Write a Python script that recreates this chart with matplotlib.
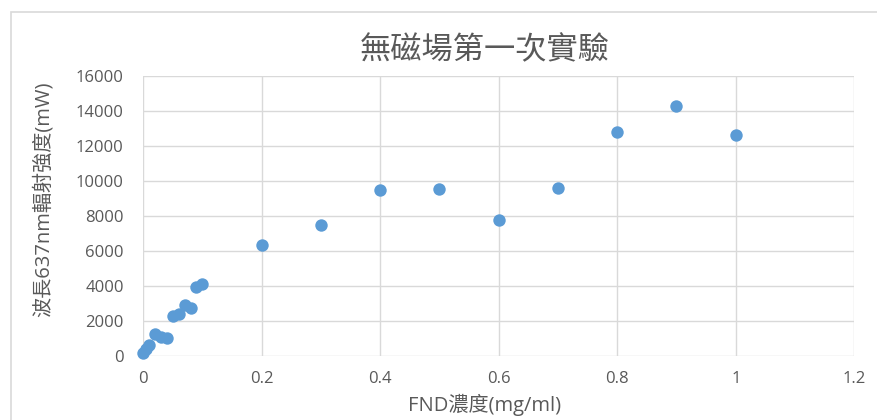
import matplotlib

matplotlib.use("Agg")

import matplotlib.pyplot as plt
from matplotlib.patches import Rectangle

plt.rcParams["font.family"] = ["Open Sans", "Noto Sans CJK TC", "DejaVu Sans"]

# FND concentration (mg/ml) vs 637 nm emission intensity (mW), no magnetic field
conc = [0, 0.005, 0.01, 0.02, 0.03, 0.04, 0.05, 0.06, 0.07, 0.08, 0.09, 0.1,
        0.2, 0.3, 0.4, 0.5, 0.6, 0.7, 0.8, 0.9, 1.0]
power = [200, 400, 650, 1250, 1100, 1050, 2300, 2400, 2950, 2750, 3950, 4100,
         6350, 7500, 9500, 9550, 7750, 9600, 12800, 14300, 12650]

x_ticks = [0, 0.2, 0.4, 0.6, 0.8, 1, 1.2]
x_labels = ["0", "0.2", "0.4", "0.6", "0.8", "1", "1.2"]
y_ticks = [0, 2000, 4000, 6000, 8000, 10000, 12000, 14000, 16000]

TEXT = "#595959"
GRID = "#D9D9D9"
BLUE = "#5B9BD5"

fig = plt.figure(figsize=(8.78, 4.2), dpi=100)
ax = fig.add_axes((0.163, 0.152, 0.810, 0.667))

# light chart-area frame, running off the right and bottom edges
fig.patches.append(Rectangle((11 / 878, -0.1), 1.2, 1.1 - 12 / 420,
                             transform=fig.transFigure, fill=False,
                             edgecolor="#D9D9D9", lw=1.2))

ax.scatter(conc, power, s=80, color=BLUE, linewidths=0, zorder=3, clip_on=False)

ax.set_xlim(0, 1.2)
ax.set_ylim(0, 16000)
ax.set_xticks(x_ticks)
ax.set_xticklabels(x_labels)
ax.set_yticks(y_ticks)
ax.grid(True, color=GRID, lw=1)
ax.set_axisbelow(True)
for s in ax.spines.values():
    s.set_visible(False)
ax.tick_params(length=0, colors=TEXT, labelsize=12)
ax.tick_params(axis="y", pad=14)
ax.tick_params(axis="x", pad=11)

# Excel places the axis titles off-centre; put them where the reference has them
fig.text(485 / 878, 1 - 405 / 420, "FND濃度(mg/ml)", ha="center", va="center",
         color=TEXT, fontsize=14.5)
fig.text(43 / 878, 1 - 199 / 420, "波長637nm輻射強度(mW)", ha="center", va="center",
         rotation=90, color=TEXT, fontsize=14.5)
fig.text(485 / 878, 1 - 50 / 420, "無磁場第一次實驗", ha="center", va="center",
         color=TEXT, fontsize=22.5, family=["Noto Sans CJK TC", "DejaVu Sans"])

fig.savefig("out.png", dpi=100)
